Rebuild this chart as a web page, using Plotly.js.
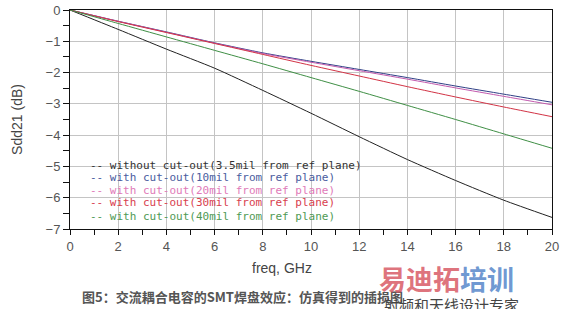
<!DOCTYPE html>
<html><head><meta charset="utf-8">
<script src="https://cdn.plot.ly/plotly-3.0.1.min.js"></script>
<style>body{margin:0;background:#fff}#chart{width:575px;height:309px}</style>
</head><body><div id="chart"></div>
<script>
const freq = [0, 2, 4, 6, 8, 10, 12, 14, 16, 18, 20];
const s35 = [0, -0.62, -1.25, -1.86, -2.57, -3.30, -4.05, -4.78, -5.45, -6.08, -6.63];
const s10 = [0, -0.36, -0.70, -1.05, -1.37, -1.64, -1.90, -2.16, -2.43, -2.69, -2.95];
const s20 = [0, -0.36, -0.71, -1.06, -1.39, -1.67, -1.94, -2.21, -2.49, -2.76, -3.03];
const s30 = [0, -0.37, -0.72, -1.07, -1.42, -1.77, -2.11, -2.45, -2.78, -3.10, -3.41];
const s40 = [0, -0.43, -0.86, -1.29, -1.72, -2.16, -2.60, -3.05, -3.50, -3.96, -4.42];
const names = [
  "-- without cut-out(3.5mil from ref plane)",
  "-- with cut-out(10mil from ref plane)",
  "-- with cut-out(20mil from ref plane)",
  "-- with cut-out(30mil from ref plane)",
  "-- with cut-out(40mil from ref plane)"
];
const series = [s35, s10, s20, s30, s40];
const lineColors = ["#222222", "#2f3f86", "#c25aae", "#d23345", "#3f8f45"];
const textColors = ["#333333", "#4a5c9e", "#e07ab8", "#d8404e", "#4f9a55"];
const caption = "图5：交流耦合电容的SMT焊盘效应：仿真得到的插损图";
const xTitle = "freq, GHz";
const yTitle = "Sdd21 (dB)";
const wmMain1 = "易迪拓";
const wmMain2 = "培训";
const wmSub = "射频和天线设计专家";

const traces = series.map((s, i) => ({
  x: freq, y: s, type: "scatter", mode: "lines", name: names[i],
  line: {color: lineColors[i], width: 1, shape: "spline", smoothing: 0.6},
  showlegend: false, hoverinfo: "skip"
}));

const legendY = [0.292, 0.233, 0.174, 0.119, 0.059];
const annotations = names.map((n, i) => ({
  text: n, xref: "paper", yref: "paper", x: 0.037, y: legendY[i],
  xanchor: "left", yanchor: "middle", showarrow: false,
  font: {family: "DejaVu Sans Mono", size: 11, color: textColors[i]}
}));
annotations.push({
  text: xTitle, xref: "paper", yref: "paper", x: 0.44, y: -0.178,
  xanchor: "center", yanchor: "middle", showarrow: false,
  font: {size: 14, color: "#444444"}
});
annotations.push({
  text: "<b>" + caption + "</b>", xref: "paper", yref: "paper",
  x: 0.021, y: -0.31, xanchor: "left", yanchor: "middle", showarrow: false,
  font: {family: "Noto Sans CJK SC", size: 13, color: "#555555"}
});
annotations.push({
  text: "<b><span style='color:rgba(215,85,95,0.82)'>" + wmMain1 + "</span><span style='color:rgba(80,130,200,0.82)'>" + wmMain2 + "</span></b>",
  xref: "paper", yref: "paper", x: 0.925, y: -0.224, xanchor: "right", yanchor: "middle",
  showarrow: false, font: {family: "Noto Sans CJK SC", size: 27}
});
annotations.push({
  text: wmSub, xref: "paper", yref: "paper", x: 0.935, y: -0.345,
  xanchor: "right", yanchor: "middle", showarrow: false,
  font: {family: "Noto Sans CJK SC", size: 15, color: "#444444"}
});

const layout = {
  width: 575, height: 309,
  margin: {l: 70, r: 23, t: 10, b: 80},
  paper_bgcolor: "#ffffff", plot_bgcolor: "#ffffff",
  font: {family: "Liberation Sans, Arial", color: "#444444", size: 13},
  xaxis: {
    range: [0, 20], dtick: 2, tick0: 0, showgrid: true, gridcolor: "#c4c4c4", gridwidth: 1,
    showline: true, linecolor: "#111111", linewidth: 1, mirror: true,
    ticks: "outside", ticklen: 5, tickcolor: "#111111", zeroline: false,
    minor: {dtick: 1, ticks: "outside", ticklen: 5, tickcolor: "#111111", showgrid: false},
    tickfont: {size: 13, color: "#555555"}
  },
  yaxis: {
    range: [-7, 0], dtick: 1, showgrid: true, gridcolor: "#c4c4c4", gridwidth: 1,
    showline: true, linecolor: "#111111", linewidth: 1, mirror: true,
    ticks: "outside", ticklen: 6, tickcolor: "#111111", zeroline: false,
    minor: {dtick: 0.5, ticks: "outside", ticklen: 6, tickcolor: "#111111", showgrid: false},
    tickfont: {size: 13, color: "#555555"},
    title: {text: yTitle, font: {size: 14, color: "#444444"}, standoff: 19}
  },
  annotations: annotations
};
Plotly.newPlot("chart", traces, layout, {staticPlot: true, displayModeBar: false});
</script></body></html>
